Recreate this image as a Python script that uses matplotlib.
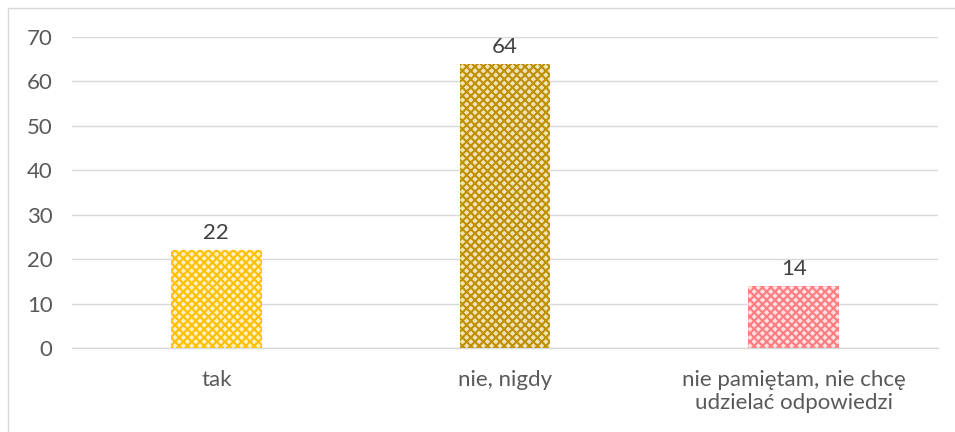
import matplotlib.pyplot as plt
from matplotlib.patches import Rectangle

categories = ["tak", "nie, nigdy", "nie pamiętam, nie chcę\nudzielać odpowiedzi"]
values = [22, 64, 14]
hatch_colors = ["#FFC000", "#BF9000", "#FF7C80"]
fill_colors = ["#FFF0C2", "#EFE3BF", "#FFE0E1"]
yticks = [0, 10, 20, 30, 40, 50, 60, 70]

plt.rcParams["font.family"] = ["Lato", "DejaVu Sans"]
plt.rcParams["hatch.linewidth"] = 1.5

W, H = 955, 432
fig = plt.figure(figsize=(W / 100, H / 100), dpi=100)
ax = fig.add_axes([72 / W, 84 / H, (938 - 72) / W, (348 - 37) / H])

text_col = "#595959"
grid_col = "#D9D9D9"

x = range(len(categories))
for i, (v, hc, fc) in enumerate(zip(values, hatch_colors, fill_colors)):
    ax.bar(i, v, width=0.315, color=fc, hatch="xxxx", edgecolor=hc, linewidth=0, zorder=3)
    ax.annotate(str(v), (i, v), xytext=(0, 5), textcoords="offset points",
                ha="center", va="bottom", fontsize=16, color="#404040")

ax.set_xlim(-0.5, 2.5)
ax.set_ylim(0, 70)
ax.set_yticks(yticks)
ax.set_xticks(list(x))
ax.set_xticklabels(categories, linespacing=1.2)
ax.tick_params(axis="both", length=0, labelsize=16, colors=text_col)
ax.tick_params(axis="x", pad=16)
ax.tick_params(axis="y", pad=14)
ax.grid(axis="y", color=grid_col, linewidth=1, zorder=0)
for side in ["top", "right", "left"]:
    ax.spines[side].set_visible(False)
ax.spines["bottom"].set_color(grid_col)
ax.spines["bottom"].set_linewidth(1)

# outer chart frame
fig.patches.append(Rectangle((8 / W, -0.05), 1.1, 1 - 8 / H + 0.05, transform=fig.transFigure,
                             fill=False, edgecolor=grid_col, linewidth=1))

fig.savefig("out.png", dpi=100)
